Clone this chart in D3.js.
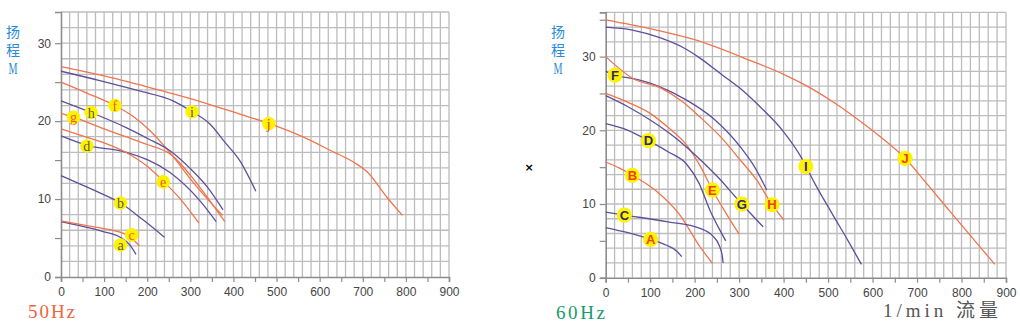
<!DOCTYPE html>
<html><head><meta charset="utf-8">
<script src="https://cdn.jsdelivr.net/npm/d3@7"></script>
<style>body{margin:0;background:#fff;}svg{display:block;}</style>
</head><body>
<svg id="c" width="1020" height="326"></svg>
<script>
// ---- tick labels ----
const xTicks = [0,100,200,300,400,500,600,700,800,900];
const yTicks50 = [0,10,20,30];
const yTicks60 = [0,10,20,30];

// ---- 50Hz curves: [flow l/min, head m] ----
const c50a = [[0,7.1],[50,6.5],[100,5.8],[137,5.1],[160,4.1],[174,2.9]];
const c50b = [[0,13.0],[50,11.8],[90,10.8],[138,9.5],[191,7.3],[240,5.1]];
const c50c = [[0,7.2],[60,6.6],[110,6.1],[145,5.6],[165,4.9],[182,4.0]];
const c50d = [[0,18.1],[60,16.9],[152,16.0],[253,13.4],[322,9.8],[360,7.1]];
const c50e = [[0,19.0],[50,18.1],[100,17.2],[150,16.0],[200,14.2],[239,12.2],[280,9.8],[320,6.9]];
const c50f = [[0,25.0],[60,23.6],[125,22.0],[170,20.5],[206,18.8],[240,16.8],[268,14.9],[300,12.6],[340,10.0],[375,7.9]];
const c50g = [[0,21.0],[29,20.5],[100,19.0],[150,18.0],[200,17.0],[253,15.8],[307,12.6],[345,9.8],[380,7.1]];
const c50h = [[0,22.6],[70,21.1],[150,19.2],[200,17.8],[253,16.2],[300,13.9],[340,11.5],[376,8.6]];
const c50i = [[0,26.4],[90,25.2],[180,23.9],[260,22.6],[304,21.2],[346,19.6],[380,17.3],[415,14.9],[452,11.0]];
const c50j = [[0,27.0],[100,25.8],[200,24.4],[300,22.9],[415,20.9],[482,19.7],[560,18.0],[630,16.1],[680,14.7],[710,13.5],[755,10.3],[792,7.9]];

// ---- 60Hz curves ----
const c60A = [[0,6.8],[50,6.1],[101,5.2],[137,4.4],[160,3.6],[171,2.85]];
const c60B = [[0,15.7],[30,14.9],[60,13.9],[115,11.7],[167,8.5],[212,4.2],[240,1.95]];
const c60C = [[0,8.9],[42,8.5],[137,7.6],[212,6.7],[240,5.7],[255,4.4],[262,3.0],[264,2.0]];
const c60D = [[0,20.9],[50,20.0],[96,18.6],[140,17.1],[182,15.4],[210,12.8],[234,9.2],[252,7.0],[270,5.0]];
const c60E = [[0,25.0],[50,23.8],[100,22.3],[140,20.4],[182,18.0],[212,15.2],[240,11.9],[270,8.8],[300,5.9]];
const c60F = [[0,28.0],[21,27.5],[70,26.9],[122,25.9],[182,24.1],[242,21.6],[302,17.8],[335,15.0],[362,11.9]];
const c60G = [[0,24.7],[50,23.2],[100,21.4],[150,19.3],[197,16.9],[250,13.8],[306,10.0],[354,6.9]];
const c60H = [[0,30.0],[62,27.0],[122,25.8],[170,24.0],[212,21.8],[260,19.0],[302,16.0],[340,13.2],[374,9.9],[401,7.8]];
const c60I = [[0,34.0],[60,33.6],[120,32.6],[175,31.2],[212,29.8],[260,27.6],[300,25.8],[347,23.2],[400,19.8],[441,16.2],[470,12.8],[510,8.6],[545,5.0],[575,1.8]];
const c60J = [[0,35.0],[100,33.8],[200,32.3],[324,29.5],[400,27.6],[459,25.8],[520,23.5],[564,21.6],[620,19.0],[673,16.2],[720,12.9],[774,9.0],[830,5.0],[875,1.8]];

// ---- label positions [flow, head] ----
const lab50 = [["a",138,4.1],["b",138,9.5],["c",164,5.4],["d",60,16.8],["e",237,12.2],["f",125,22.0],["g",29,20.5],["h",70,21.1],["i",304,21.2],["j",482,19.7]];
const lab60 = [["A",101,5.2],["B",60,13.9],["C",42,8.5],["D",96,18.6],["E",240,11.9],["F",21,27.5],["G",306,10.0],["H",374,9.9],["I",450,15.1],["J",673,16.2]];

const ORANGE = "#f0744c", PURPLE = "#5e4f9c";
const curves50 = [[c50a,PURPLE],[c50b,PURPLE],[c50c,ORANGE],[c50d,PURPLE],[c50e,ORANGE],[c50f,ORANGE],[c50g,ORANGE],[c50h,PURPLE],[c50i,PURPLE],[c50j,ORANGE]];
const curves60 = [[c60A,PURPLE],[c60B,ORANGE],[c60C,PURPLE],[c60D,PURPLE],[c60E,ORANGE],[c60F,PURPLE],[c60G,PURPLE],[c60H,ORANGE],[c60I,PURPLE],[c60J,ORANGE]];
const labCol50 = {a:"#5a5a48",b:"#5a5a48",c:"#f05a20",d:"#5a5a48",e:"#f05a20",f:"#f05a20",g:"#f05a20",h:"#5a5a48",i:"#5a5a48",j:"#e83a10"};
const labCol60 = {A:"#f04010",B:"#f04010",C:"#2e2a6e",D:"#2e2a6e",E:"#f04010",F:"#2e2a6e",G:"#2e2a6e",H:"#f04010",I:"#2e2a6e",J:"#f04010"};

const svg = d3.select("#c");

function chart(cfg){
  const x = d3.scaleLinear().domain([0,900]).range([cfg.x0,cfg.x1]);
  const y = d3.scaleLinear().domain([0,cfg.ymax]).range([cfg.y0,cfg.y1]);
  const g = svg.append("g");
  // grid
  g.append("g").selectAll("line").data(d3.range(20,901,20)).join("line")
    .attr("x1",d=>x(d)).attr("x2",d=>x(d)).attr("y1",y(0)).attr("y2",y(cfg.ymax))
    .attr("stroke","#bcbcbc").attr("stroke-width",1.3);
  g.append("g").selectAll("line").data(d3.range(2,cfg.ymax+0.1,2)).join("line")
    .attr("x1",x(0)).attr("x2",x(900)).attr("y1",d=>y(d)).attr("y2",d=>y(d))
    .attr("stroke","#bcbcbc").attr("stroke-width",1.3);
  // axes
  const xa = g.append("g").attr("transform",`translate(0,${y(0)})`)
    .call(d3.axisBottom(x).tickValues(d3.range(0,901,50)).tickSize(5)
      .tickFormat(d=>xTicks.includes(d)?d:""));
  const ya = g.append("g").attr("transform",`translate(${x(0)},0)`)
    .call(d3.axisLeft(y).tickValues(d3.range(0,cfg.ymax+0.1,5)).tickSize(6)
      .tickFormat(d=>cfg.yt.includes(d)?d:""));
  [xa,ya].forEach(a=>{
    a.select(".domain").attr("stroke","#8c8c8c").attr("stroke-width",1.6);
    a.selectAll(".tick line").attr("stroke","#8c8c8c").attr("stroke-width",1.2);
    a.selectAll("text").attr("fill","#444").attr("font-family","Liberation Sans, Arial, sans-serif").attr("font-size",12);
  });
  xa.selectAll("text").attr("dy","0.95em");
  ya.selectAll("text").attr("dx","-1px");
  // curves
  const line = d3.line().x(d=>x(d[0])).y(d=>y(d[1])).curve(d3.curveMonotoneX);
  g.append("g").selectAll("path").data(cfg.curves).join("path")
    .attr("d",d=>line(d[0])).attr("fill","none").attr("stroke",d=>d[1]).attr("stroke-width",1.3);
  // labels
  const lg = g.append("g").selectAll("g").data(cfg.labs).join("g")
    .attr("transform",d=>`translate(${x(d[1])},${y(d[2])})`);
  lg.append("circle").attr("r",cfg.r).attr("fill","#fff200");
  lg.append("text").text(d=>d[0]).attr("text-anchor","middle").attr("dy","0.36em")
    .attr("font-family",cfg.lf).attr("font-size",cfg.lfs).attr("font-weight",cfg.lw)
    .attr("fill",d=>cfg.lc[d[0]]);
}

chart({x0:61,x1:449,y0:277,y1:12,ymax:34,yt:yTicks50,curves:curves50,labs:lab50,lc:labCol50,r:6.8,
  lf:"Liberation Serif, serif",lfs:14,lw:"normal"});
chart({x0:605.7,x1:1006,y0:277.7,y1:12.4,ymax:36,yt:yTicks60,curves:curves60,labs:lab60,lc:labCol60,r:7.6,
  lf:"Liberation Sans, Arial, sans-serif",lfs:13,lw:"bold"});

// axis titles
function vtitle(xp){
  const t = svg.append("g").attr("fill","#2a8ad8").attr("text-anchor","middle");
  t.append("text").attr("x",xp).attr("y",37).attr("font-size",14).attr("font-family","Noto Sans CJK SC, sans-serif").text("扬");
  t.append("text").attr("x",xp).attr("y",55).attr("font-size",14).attr("font-family","Noto Sans CJK SC, sans-serif").text("程");
  t.append("text").attr("x",xp).attr("y",74).attr("font-family","Liberation Serif, serif").attr("font-size",17).attr("textLength",9).attr("lengthAdjust","spacingAndGlyphs").text("M");
}
vtitle(13); vtitle(558);

svg.append("text").attr("x",28).attr("y",318).attr("fill","#f0643c").attr("font-family","Liberation Serif, serif")
  .attr("font-size",19).attr("textLength",47).attr("lengthAdjust","spacing").text("50Hz");
svg.append("text").attr("x",556).attr("y",319).attr("fill","#1a9a6e").attr("font-family","Liberation Serif, serif")
  .attr("font-size",19).attr("textLength",49).attr("lengthAdjust","spacing").text("60Hz");
svg.append("text").attr("x",883).attr("y",317).attr("fill","#555").attr("font-family","Liberation Serif, Noto Sans CJK SC, serif")
  .attr("font-size",19).attr("textLength",115).attr("lengthAdjust","spacing").text("1/min 流量");
svg.append("text").attr("x",529).attr("y",171).attr("text-anchor","middle").attr("fill","#000").attr("font-weight","bold")
  .attr("font-family","DejaVu Sans, sans-serif").attr("font-size",11).text("×");
</script>
</body></html>
